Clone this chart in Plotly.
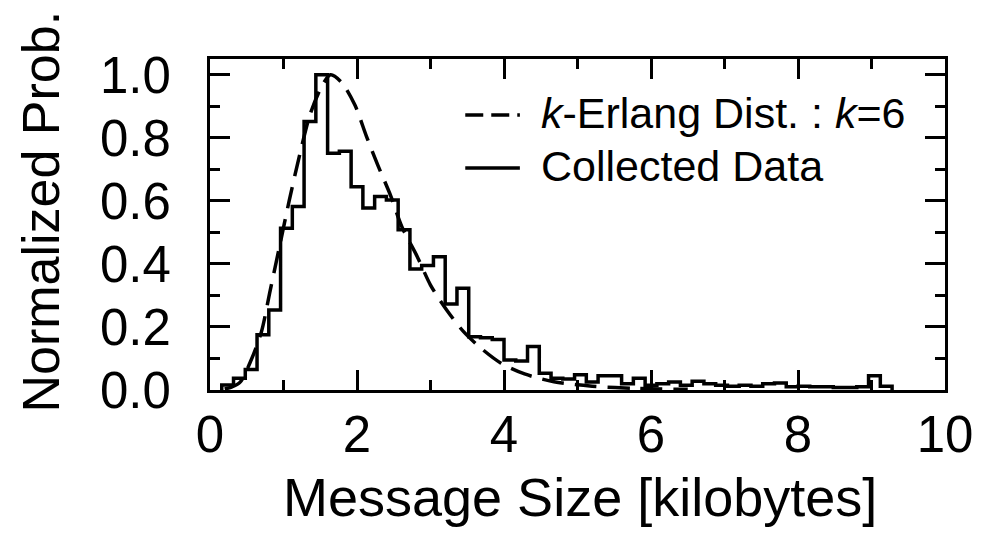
import plotly.graph_objects as go

# ---- data ----
BIN_START = 0.16          # kB, left edge of first bin
BIN_WIDTH = 0.16          # kB
hist_values = [
    0.016, 0.037, 0.065, 0.175, 0.254, 0.513, 0.582, 0.852, 1.000, 0.751,
    0.757, 0.645, 0.577, 0.614, 0.603, 0.508, 0.384, 0.395, 0.423, 0.273,
    0.323, 0.169, 0.166, 0.160, 0.095, 0.092, 0.138, 0.053, 0.037, 0.035,
    0.048, 0.025, 0.045, 0.045, 0.020, 0.037, 0.015, 0.020, 0.025, 0.015,
    0.028, 0.020, 0.015, 0.012, 0.015, 0.012, 0.020, 0.022, 0.010, 0.012,
    0.010, 0.010, 0.008, 0.008, 0.010, 0.045, 0.012,
]

erlang_x = [0.20, 0.30, 0.41, 0.56, 0.70, 0.82, 0.95, 1.08, 1.22, 1.36, 1.52,
            1.64, 1.79, 1.97, 2.13, 2.28, 2.46, 2.61, 2.82, 3.00, 3.22, 3.45,
            3.69, 3.96, 4.28, 4.68, 5.20, 5.80, 6.50]
erlang_y = [0.003, 0.010, 0.025, 0.095, 0.185, 0.317, 0.460, 0.603, 0.746,
            0.873, 0.963, 1.000, 0.976, 0.905, 0.804, 0.715, 0.615, 0.518,
            0.423, 0.333, 0.254, 0.185, 0.132, 0.085, 0.051, 0.026, 0.012,
            0.005, 0.002]

x_ticks = [0, 2, 4, 6, 8, 10]
y_ticks = [0.0, 0.2, 0.4, 0.6, 0.8, 1.0]

legend_labels = ["<i>k</i>-Erlang Dist. : <i>k</i>=6", "Collected Data"]

# ---- build step outline from the bins ----
edges = [round(BIN_START + BIN_WIDTH * i, 4) for i in range(len(hist_values) + 1)]
step_x = [edges[0]] + edges[:-1] + [edges[-1]]
step_y = [0.0] + hist_values + [0.0]

FONT = "Liberation Sans, Arial, Helvetica, sans-serif"
DASH = "22px,11px"
LW = 3.5

fig = go.Figure()
fig.add_trace(go.Scatter(
    x=erlang_x, y=erlang_y, mode="lines",
    line=dict(color="black", width=LW, dash=DASH, shape="spline", smoothing=0.8),
    name="k-Erlang Dist. : k=6", showlegend=False,
))
fig.add_trace(go.Scatter(
    x=step_x, y=step_y, mode="lines",
    line=dict(color="black", width=LW, shape="hv"),
    name="Collected Data", showlegend=False,
))

axis_common = dict(
    showline=True, linecolor="black", linewidth=3, mirror="allticks",
    ticks="inside", tickwidth=3, tickcolor="black", ticklen=20,
    showgrid=False, zeroline=False,
    tickfont=dict(family=FONT, size=51, color="black"),
)

fig.update_xaxes(range=[0, 10], tickvals=x_ticks, ticktext=[str(v) for v in x_ticks],
                 minor=dict(dtick=1, ticklen=10, tickwidth=3, tickcolor="black", ticks="inside"),
                 ticklabelstandoff=-2, **axis_common)
fig.update_yaxes(range=[0, 1.05], tickvals=y_ticks, ticktext=[f"{v:.1f}" for v in y_ticks],
                 minor=dict(dtick=0.1, tick0=0, ticklen=10, tickwidth=3, tickcolor="black", ticks="inside"),
                 ticklabelstandoff=26, **axis_common)

# manual legend (samples + labels), positioned in paper coordinates
leg_x0, leg_x1, leg_tx = 0.3473, 0.4216, 0.4473
leg_rows = [0.8308, 0.6707]
shapes = [
    dict(type="line", xref="paper", yref="paper", x0=leg_x0, x1=leg_x1,
         y0=leg_rows[0], y1=leg_rows[0], line=dict(color="black", width=LW, dash="18px,8px")),
    dict(type="line", xref="paper", yref="paper", x0=leg_x0, x1=leg_x1,
         y0=leg_rows[1], y1=leg_rows[1], line=dict(color="black", width=LW)),
]
annotations = [
    dict(text=lab, xref="paper", yref="paper", x=leg_tx, y=yy + 0.005,
         xanchor="left", yanchor="middle", showarrow=False,
         font=dict(family=FONT, size=43, color="black"))
    for lab, yy in zip(legend_labels, leg_rows)
]
annotations += [
    dict(text="Message Size [kilobytes]", xref="paper", yref="paper",
         x=0.504, y=-0.323, xanchor="center", yanchor="middle", showarrow=False,
         font=dict(family=FONT, size=54, color="black")),
    dict(text="Normalized Prob.", xref="paper", yref="paper", textangle=-90,
         x=-0.2304, y=0.538, xanchor="center", yanchor="middle", showarrow=False,
         font=dict(family=FONT, size=52, color="black")),
]

fig.update_layout(
    width=985, height=537,
    margin=dict(l=210, r=35, t=59, b=147),
    paper_bgcolor="white", plot_bgcolor="white",
    font=dict(family=FONT, color="black"),
    showlegend=False,
    shapes=shapes,
    annotations=annotations,
)

fig.write_html("out.html")
